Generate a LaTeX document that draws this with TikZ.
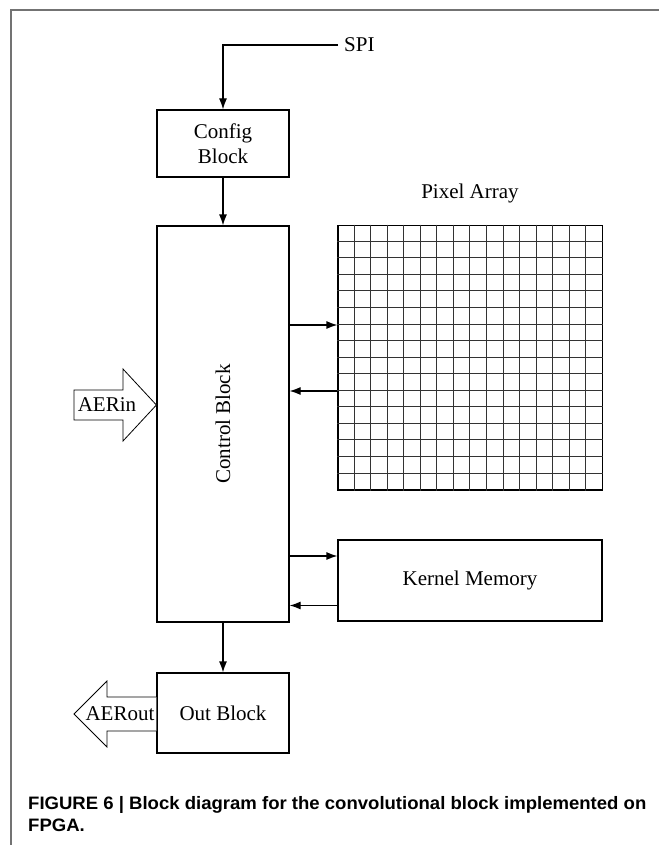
\documentclass[tikz,border=0pt]{standalone}
\usepackage{fontspec}
\setmainfont{Liberation Serif}
\newfontfamily\capfont[FakeStretch=1.03]{Liberation Sans}
\usetikzlibrary{arrows.meta,calc}
\begin{document}
\begin{tikzpicture}[x=1pt,y=-1pt,
  blk/.style={draw,line width=1.2pt,inner sep=0pt,font=\fontsize{21}{25}\selectfont,align=center},
  conn/.style={line width=1.2pt,-{Latex[length=11pt,width=8pt]}},
  bigarrow/.style={draw,line width=0.8pt,fill=white},
  lbl/.style={font=\fontsize{21}{25}\selectfont,inner sep=0pt}]
\useasboundingbox (0,0) rectangle (659,845);
\fill[white] (0,0) rectangle (659,845);
% frame
\draw[line width=1.6pt,color=black!55] (11,845) -- (11,10) -- (659,10);
% blocks
\node[blk,minimum width=132pt,minimum height=67pt] (config) at (223,143.5) {Config\\Block};
\node[blk,minimum width=132pt,minimum height=396pt] (control) at (223,424) {};
\node[lbl,rotate=90] (ctext) at (control.center) {Control Block};
\node[blk,minimum width=132pt,minimum height=80pt] (outb) at (223,713) {Out Block};
\node[blk,minimum width=264pt,minimum height=81pt] (kernel) at (470,580.5) {Kernel Memory};
% pixel array
\node[draw,line width=1.2pt,minimum width=264.8pt,minimum height=264.8pt,inner sep=0pt] (pixel) at (470.4,357.6) {};
\foreach \i in {1,...,15}{
  \draw[line width=0.7pt,color=black!80] ($(pixel.north west)+(\i*16.55,0)$) -- ($(pixel.south west)+(\i*16.55,0)$);
  \draw[line width=0.7pt,color=black!80] ($(pixel.north west)+(0,\i*16.55)$) -- ($(pixel.north east)+(0,\i*16.55)$);
}
\node[lbl] (plabel) at (470,193) {Pixel Array};
% SPI
\node[lbl,anchor=west] (spi) at (344,45) {SPI};
\draw[conn] ($(spi.west)+(-6,0)$) -- (config.north |- spi.west) -- (config.north);
% vertical connections
\draw[conn] (config.south) -- (control.north);
\draw[conn] (control.south) -- (outb.north);
% horizontal connections
\draw[conn] (control.east |- 0,325) -- (pixel.west |- 0,325);
\draw[conn] (pixel.west |- 0,391) -- (control.east |- 0,391);
\draw[conn] (control.east |- 0,556) -- (kernel.west |- 0,556);
\draw[conn] (kernel.west |- 0,605.5) -- (control.east |- 0,605.5);
% AERin
\draw[bigarrow] (74,390) -- (123,390) -- (123,369) -- (control.west |- 0,405) -- (123,441) -- (123,420) -- (74,420) -- cycle;
\node[lbl] (aerin) at (107,405) {AERin};
% AERout
\draw[bigarrow] (outb.west |- 0,697) -- (107,697) -- (107,681) -- (74,714) -- (107,747) -- (107,731) -- (outb.west |- 0,731);
\node[lbl] (aerout) at (120,714) {AERout};
% caption
\node[anchor=base west,inner sep=0pt,align=left,font=\capfont\bfseries\fontsize{18}{21.7}\selectfont] (cap) at (28,831) {FIGURE 6 | Block diagram for the convolutional block implemented on\\FPGA.};
\end{tikzpicture}
\end{document}
